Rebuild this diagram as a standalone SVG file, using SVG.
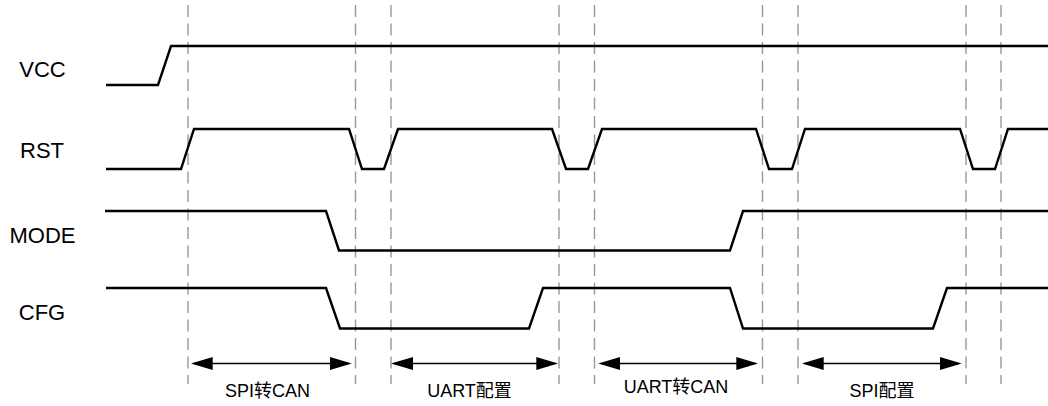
<svg xmlns="http://www.w3.org/2000/svg" width="1048" height="406" viewBox="0 0 1048 406">
  <style>
    .bg { fill: #ffffff; }
    .guide { stroke: #999999; stroke-width: 1.4; stroke-dasharray: 12 6.5; fill: none; }
    .wave { stroke: #000000; stroke-width: 2.4; fill: none; stroke-linejoin: miter; }
    .sig { font-family: "Liberation Sans", Arial, sans-serif; font-size: 22px; fill: #000000; text-anchor: middle; }
    .span { font-family: "Liberation Sans", Arial, "Noto Sans CJK SC", sans-serif; font-size: 18px; fill: #000000; text-anchor: middle; }
    .dim { stroke: #000000; stroke-width: 1.6; fill: none; marker-start: url(#ah); marker-end: url(#ah); }
  </style>
  <defs>
    <marker id="ah" viewBox="0 0 22 13" markerUnits="userSpaceOnUse" markerWidth="22" markerHeight="13" refX="19" refY="6.5" orient="auto-start-reverse">
      <path d="M0,0 L22,6.5 L0,13 Z" fill="#000000"/>
    </marker>
  </defs>
  <rect class="bg" x="0" y="0" width="1048" height="406"/>

  <g id="guides">
    <line class="guide" x1="188" y1="5" x2="188" y2="384"/>
    <line class="guide" x1="355.5" y1="5" x2="355.5" y2="384"/>
    <line class="guide" x1="391" y1="5" x2="391" y2="384"/>
    <line class="guide" x1="559" y1="5" x2="559" y2="384"/>
    <line class="guide" x1="594.5" y1="5" x2="594.5" y2="384"/>
    <line class="guide" x1="762.5" y1="5" x2="762.5" y2="384"/>
    <line class="guide" x1="798" y1="5" x2="798" y2="384"/>
    <line class="guide" x1="966" y1="5" x2="966" y2="384"/>
    <line class="guide" x1="1001" y1="5" x2="1001" y2="384"/>
  </g>

  <g id="VCC">
    <text class="sig" x="42.5" y="77">VCC</text>
    <polyline class="wave" points="106,85 158,85 171,46 1048,46"/>
  </g>

  <g id="RST">
    <text class="sig" x="42" y="158">RST</text>
    <polyline class="wave" points="106,169 181,169 194,129 349,129 362,169 384,169 398,129 552,129 566,169 588,169 602,129 756,129 769,169 792,169 805,129 960,129 973,169 995,169 1008,129 1048,129"/>
  </g>

  <g id="MODE">
    <text class="sig" x="42.5" y="243">MODE</text>
    <polyline class="wave" points="105,211 326,211 339,250.5 730,250.5 743,211 1048,211"/>
  </g>

  <g id="CFG">
    <text class="sig" x="42" y="320">CFG</text>
    <polyline class="wave" points="106,288 326,288 340,328.5 529,328.5 543,288 730,288 743,328.5 933,328.5 947,288 1048,288"/>
  </g>

  <g id="connectors">
    <line class="dim" x1="193.7" y1="363.5" x2="348.7" y2="363.5"/>
    <line class="dim" x1="394" y1="363.5" x2="555.3" y2="363.5"/>
    <line class="dim" x1="601.3" y1="363.5" x2="755.3" y2="363.5"/>
    <line class="dim" x1="804.7" y1="363.5" x2="958.7" y2="363.5"/>
  </g>

  <g id="span-spi-can">
    <text class="span" x="267.5" y="396.5">SPI转CAN</text>
  </g>
  <g id="span-uart-cfg">
    <text class="span" x="469.5" y="396.5">UART配置</text>
  </g>
  <g id="span-uart-can">
    <text class="span" x="676" y="393">UART转CAN</text>
  </g>
  <g id="span-spi-cfg">
    <text class="span" x="882" y="396.5">SPI配置</text>
  </g>
</svg>
